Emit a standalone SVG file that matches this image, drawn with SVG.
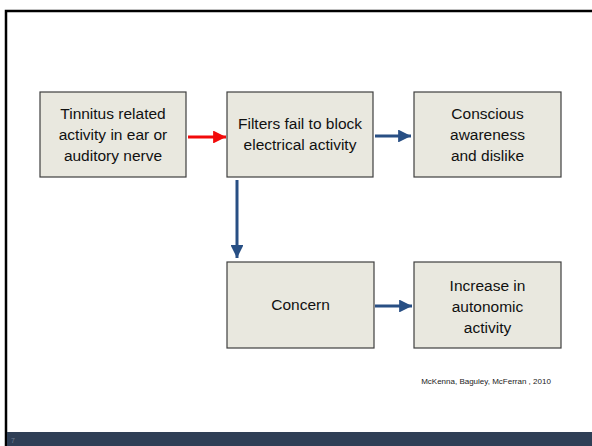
<svg xmlns="http://www.w3.org/2000/svg" width="592" height="446" viewBox="0 0 592 446">
<style>
.box{fill:#E9E8DF;stroke:#3F3F3F;stroke-width:1.2}
.t{font-family:"Liberation Sans",Arial,sans-serif;font-size:15.5px;fill:#111;text-anchor:middle}
.cite{font-family:"Liberation Sans",Arial,sans-serif;font-size:8px;fill:#222;text-anchor:middle}
.blue{stroke:#284F84;stroke-width:3;fill:none}
.red{stroke:#F20A0A;stroke-width:3;fill:none}
</style>
<defs>
<marker id="ab" viewBox="0 0 10 10" refX="10" refY="5" markerWidth="4.3" markerHeight="4.3" markerUnits="strokeWidth" orient="auto">
<path d="M0,0 L10,5 L0,10 Z" fill="#284F84"/>
</marker>
<marker id="ar" viewBox="0 0 10 10" refX="10" refY="5" markerWidth="4.3" markerHeight="4.3" markerUnits="strokeWidth" orient="auto">
<path d="M0,0 L10,5 L0,10 Z" fill="#F20A0A"/>
</marker>
</defs>
<rect x="0" y="0" width="592" height="446" fill="#fff"/>
<g id="frame">
<path d="M6,446 L6,11 L592,11" fill="none" stroke="#000" stroke-width="2.5"/>
<rect x="7" y="432" width="585" height="14" fill="#2F3F56"/>
<text x="11" y="443" font-family="Liberation Sans, Arial, sans-serif" font-size="7" fill="#6E7C90">7</text>
</g>
<g id="n1">
<rect class="box" x="40" y="92" width="146" height="85"/>
<text class="t" x="113" y="119">Tinnitus related</text>
<text class="t" x="113" y="140">activity in ear or</text>
<text class="t" x="113" y="161">auditory nerve</text>
</g>
<g id="n2">
<rect class="box" x="227" y="92" width="146" height="85"/>
<text class="t" x="300" y="129">Filters fail to block</text>
<text class="t" x="300" y="150">electrical activity</text>
</g>
<g id="n3">
<rect class="box" x="414" y="92" width="147" height="85"/>
<text class="t" x="487.5" y="119">Conscious</text>
<text class="t" x="487.5" y="140">awareness</text>
<text class="t" x="487.5" y="161">and dislike</text>
</g>
<g id="n4">
<rect class="box" x="227" y="262" width="147" height="86"/>
<text class="t" x="300.5" y="310">Concern</text>
</g>
<g id="n5">
<rect class="box" x="414" y="262" width="147" height="86"/>
<text class="t" x="487.5" y="291">Increase in</text>
<text class="t" x="487.5" y="312">autonomic</text>
<text class="t" x="487.5" y="333">activity</text>
</g>
<g id="connectors">
<line class="red" x1="188" y1="137" x2="226" y2="137" marker-end="url(#ar)"/>
<line class="blue" x1="375" y1="136" x2="411" y2="136" marker-end="url(#ab)"/>
<line class="blue" x1="237" y1="180" x2="237" y2="258" marker-end="url(#ab)"/>
<line class="blue" x1="375" y1="306" x2="412" y2="306" marker-end="url(#ab)"/>
</g>
<text class="cite" x="486" y="384">McKenna, Baguley, McFerran , 2010</text>
</svg>
